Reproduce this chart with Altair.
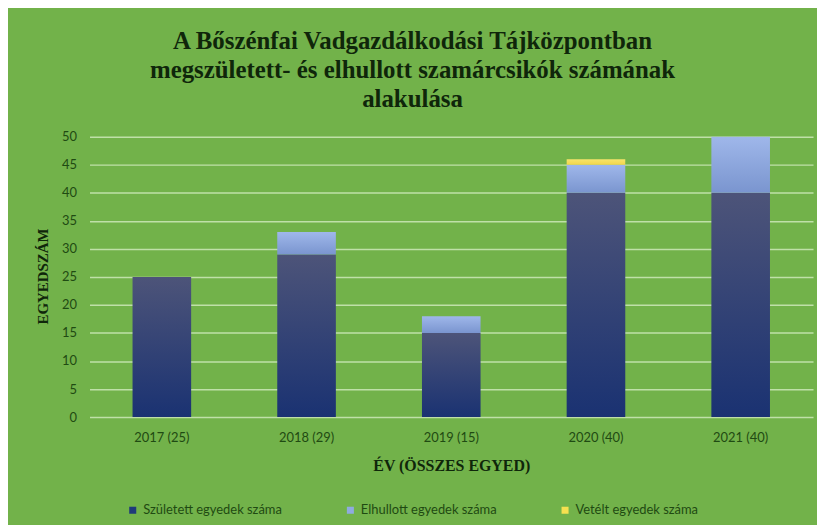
import altair as alt
import pandas as pd

years = ["2017 (25)", "2018 (29)", "2019 (15)", "2020 (40)", "2021 (40)"]
series = ["Született egyedek száma", "Elhullott egyedek száma", "Vetélt egyedek száma"]
born = [25, 29, 15, 40, 40]
died = [0, 4, 3, 5, 10]
aborted = [0, 0, 0, 1, 0]

rows = []
for i, y in enumerate(years):
    for s, vals in zip(series, [born, died, aborted]):
        rows.append({"ev": y, "sorozat": s, "ertek": vals[i], "rend": series.index(s)})
df = pd.DataFrame(rows)

g_born = {"gradient": "linear", "x1": 0, "y1": 1, "x2": 0, "y2": 0,
          "stops": [{"offset": 0, "color": "#1a3272"}, {"offset": 1, "color": "#4d5479"}]}
g_died = {"gradient": "linear", "x1": 0, "y1": 1, "x2": 0, "y2": 0,
          "stops": [{"offset": 0, "color": "#7a95cf"}, {"offset": 1, "color": "#9fb7ea"}]}
g_ab = {"gradient": "linear", "x1": 0, "y1": 1, "x2": 0, "y2": 0,
        "stops": [{"offset": 0, "color": "#f2d64a"}, {"offset": 1, "color": "#f7e46a"}]}

text_green = "#1f4a12"
dark = "#0f260a"

fill = (alt.when(alt.datum.sorozat == series[0]).then(alt.value(g_born))
        .when(alt.datum.sorozat == series[1]).then(alt.value(g_died))
        .otherwise(alt.value(g_ab)))

y_scale = alt.Scale(domain=[0, 50], nice=False)

bars = alt.Chart(df).mark_bar().encode(
    x=alt.X("ev:N", sort=years,
            scale=alt.Scale(paddingInner=0.595, paddingOuter=0.2975),
            axis=alt.Axis(title="ÉV (ÖSSZES EGYED)", labelAngle=0, ticks=False, domain=False,
                          labelPadding=15, labelFont="Lato", labelFontSize=13, labelColor=text_green,
                          titleFont="Liberation Serif", titleFontSize=16, titleFontWeight="bold",
                          titleColor=dark, titleY=49, titleBaseline="middle")),
    y=alt.Y("ertek:Q", stack="zero", scale=y_scale,
            axis=alt.Axis(title="EGYEDSZÁM", values=list(range(0, 51, 5)), ticks=False, domain=False,
                          grid=True, gridColor="#bfe0a8", gridWidth=1.5,
                          labelPadding=13, labelFont="Lato", labelFontSize=13, labelColor=text_green,
                          titleFont="Liberation Serif", titleFontSize=15, titleFontWeight="bold",
                          titleColor=dark, titleX=-47, titleY=140, titleAngle=-90,
                          titleAlign="center", titleBaseline="middle")),
    fill=fill,
    order=alt.Order("rend:Q"),
)

legend_layer = alt.Chart(df).transform_calculate(nulla="0").mark_bar(strokeWidth=0).encode(
    x=alt.X("ev:N", sort=years, axis=None),
    y=alt.Y("nulla:Q", scale=y_scale, axis=None),
    y2=alt.Y2("nulla:Q"),
    color=alt.Color("sorozat:N", sort=series,
                    scale=alt.Scale(domain=series, range=["#1f3a7a", "#8fabe0", "#f5e050"]),
                    legend=alt.Legend(title=None, orient="none", legendX=37, legendY=369,
                                      direction="horizontal", symbolType="square", symbolSize=50,
                                      labelFont="Lato", labelFontSize=13, labelColor=text_green,
                                      columnPadding=62, symbolStrokeWidth=0)),
)

chart = alt.layer(bars, legend_layer).resolve_axis(x="independent", y="independent").properties(
    width=728, height=282,
    title=alt.Title(["A Bőszénfai Vadgazdálkodási  Tájközpontban",
                     "megszületett- és elhullott szamárcsikók  számának",
                     "alakulása"],
                    font="Liberation Serif", fontSize=25, fontWeight="bold", color=dark,
                    lineHeight=29, anchor="middle", dx=-39, offset=19),
    background="#72b24a",
    padding={"left": 82, "top": 128, "right": 4, "bottom": 107},
    autosize=alt.AutoSizeParams(type="none"),
).configure_view(stroke=None)

chart.save("out.html", embed_options={"renderer": "svg", "actions": False})
